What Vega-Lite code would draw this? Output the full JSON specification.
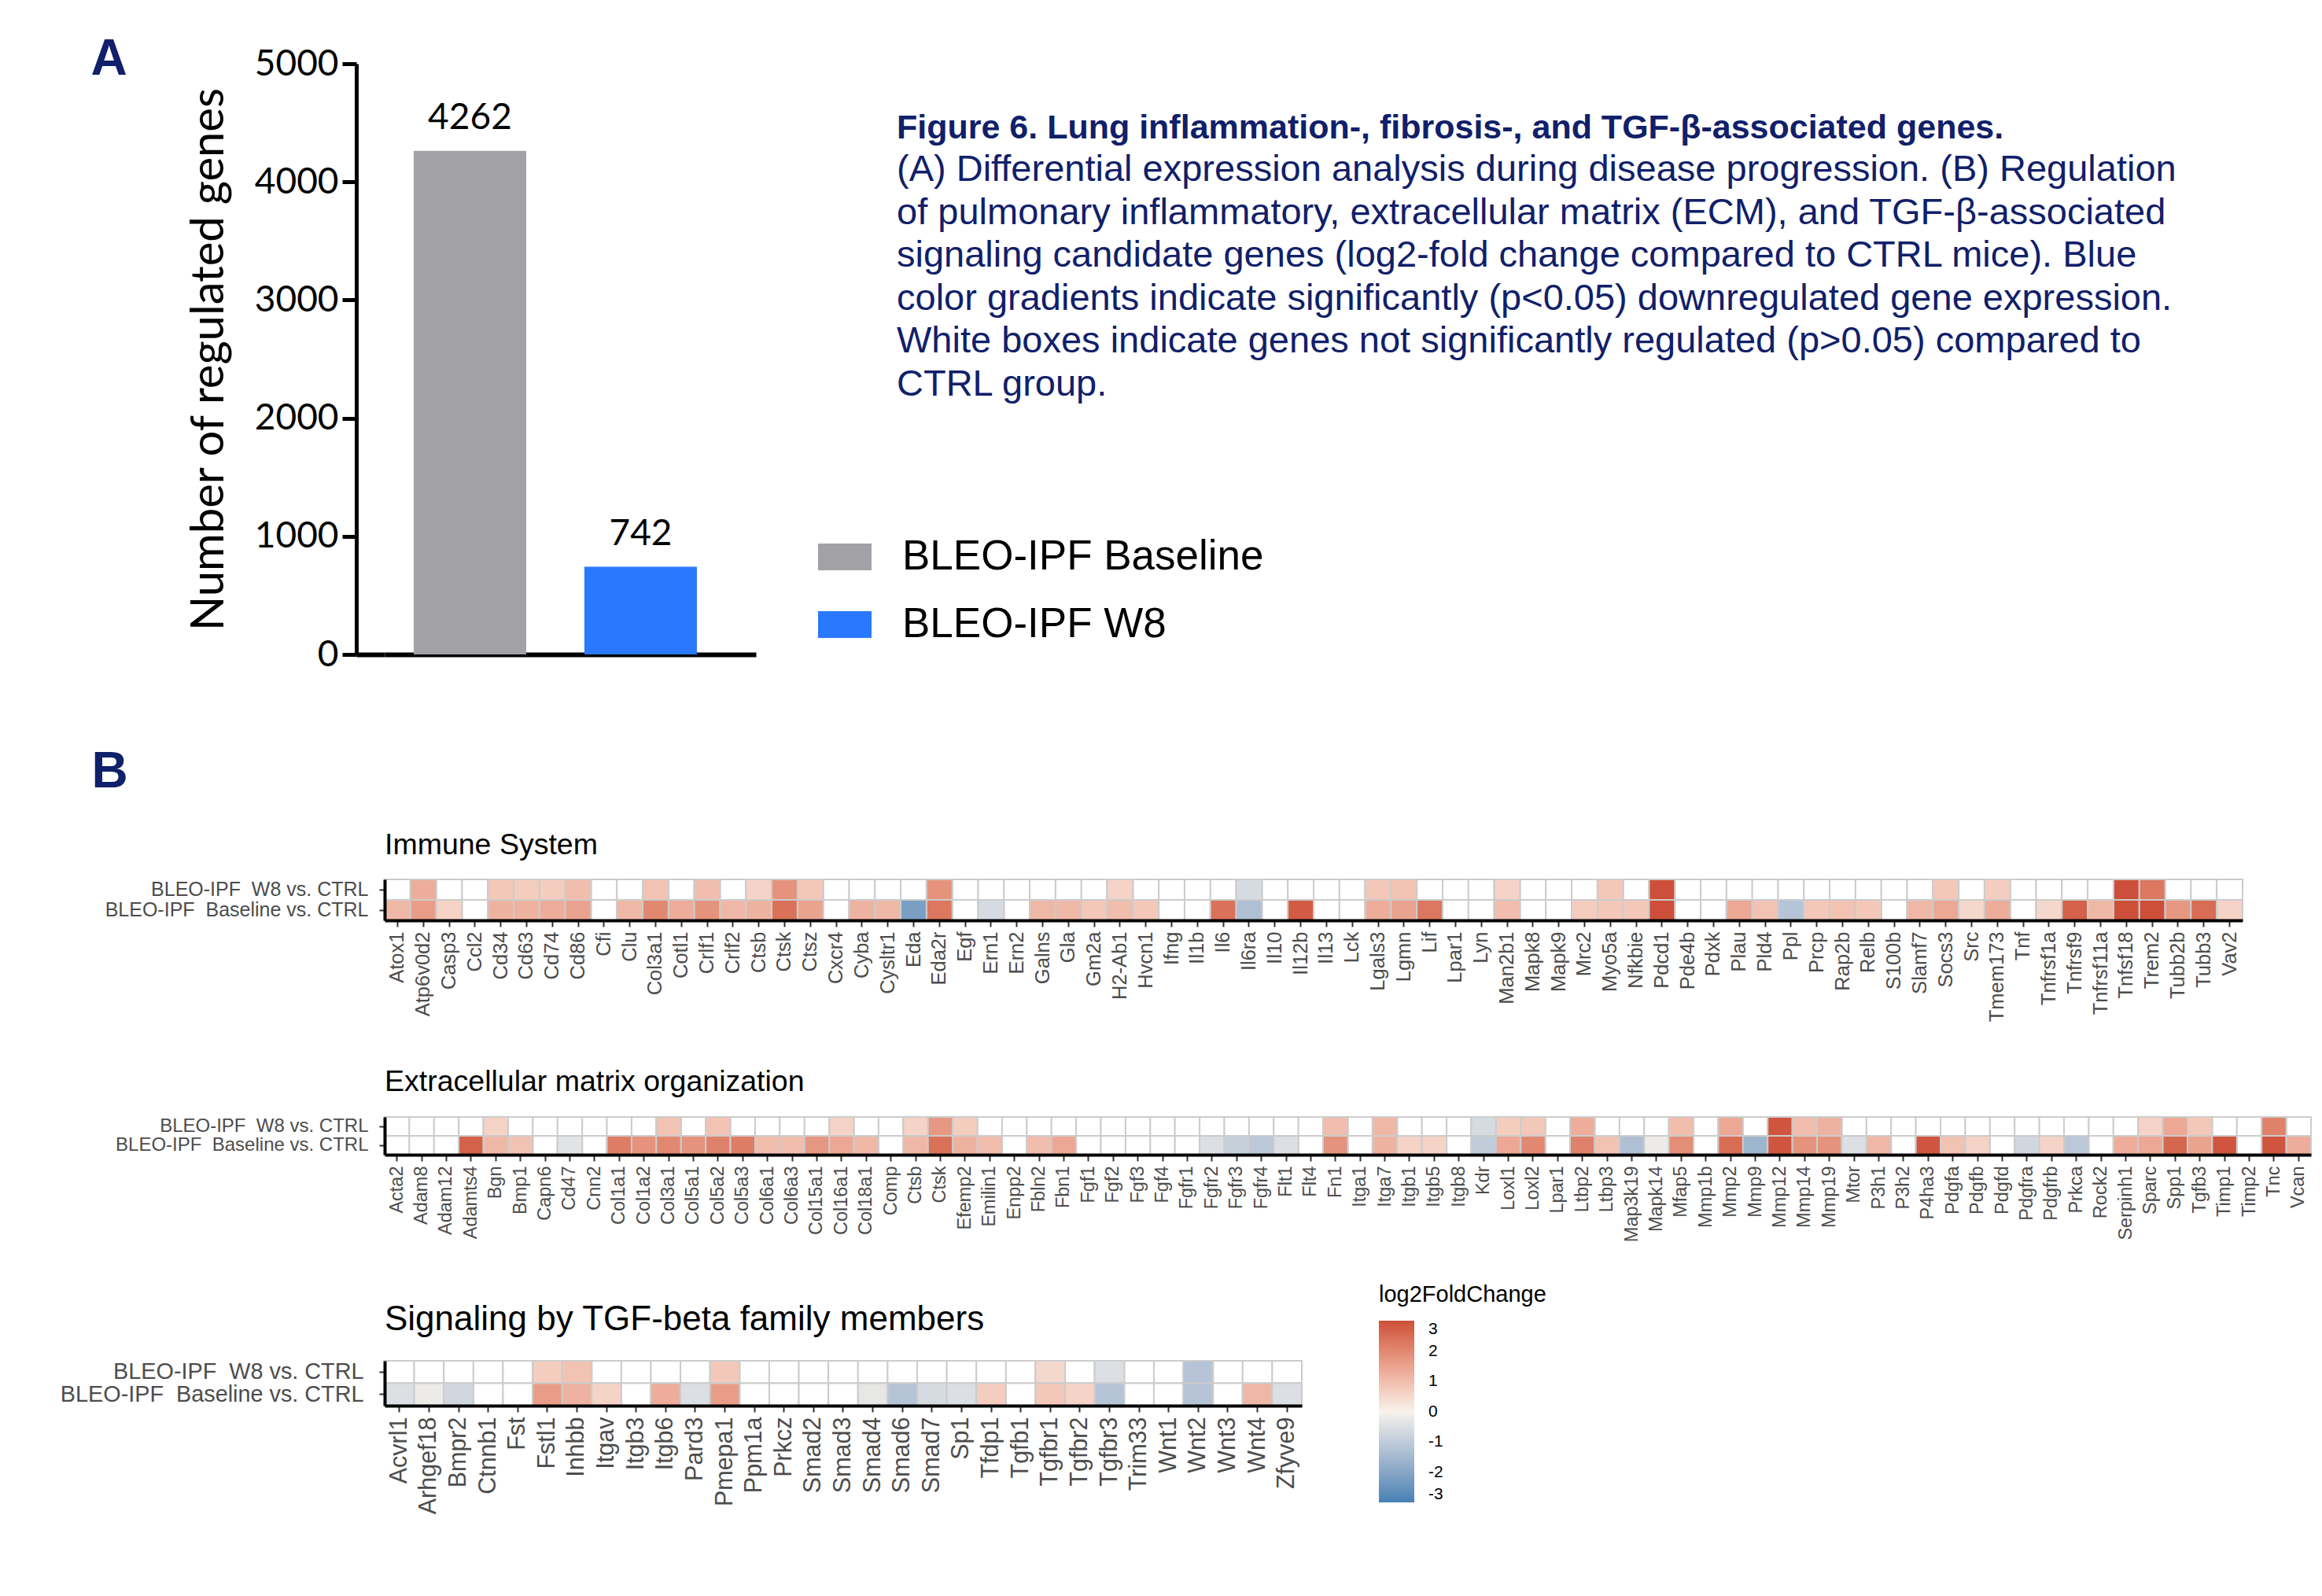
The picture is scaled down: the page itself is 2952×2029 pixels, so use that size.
{
  "$schema": "https://vega.github.io/schema/vega-lite/v6.json",
  "background": "white",
  "padding": {"left": 76, "top": 43, "right": 2, "bottom": 2},
  "spacing": 43,
  "config": {"view": {"stroke": null}, "axis": {"grid": false}},
  "resolve": {"scale": {"color": "independent"}, "legend": {"color": "independent"}},
  "datasets": {
    "bars": [
      {"group": "BLEO-IPF Baseline", "count": 4262},
      {"group": "BLEO-IPF W8", "count": 742}
    ],
    "imm": [
      {"g":"Atox1","W8":null,"Baseline":1.1},
      {"g":"Atp6v0d2","W8":1.3,"Baseline":1.6},
      {"g":"Casp3","W8":null,"Baseline":0.6},
      {"g":"Ccl2","W8":null,"Baseline":null},
      {"g":"Cd34","W8":0.8,"Baseline":1.2},
      {"g":"Cd63","W8":0.7,"Baseline":1.2},
      {"g":"Cd74","W8":0.7,"Baseline":1.3},
      {"g":"Cd86","W8":1.0,"Baseline":1.5},
      {"g":"Cfi","W8":null,"Baseline":null},
      {"g":"Clu","W8":null,"Baseline":1.1},
      {"g":"Col3a1","W8":0.9,"Baseline":2.0},
      {"g":"Cotl1","W8":null,"Baseline":1.3},
      {"g":"Crlf1","W8":1.0,"Baseline":1.8},
      {"g":"Crlf2","W8":null,"Baseline":1.1},
      {"g":"Ctsb","W8":0.6,"Baseline":1.2},
      {"g":"Ctsk","W8":1.8,"Baseline":2.4},
      {"g":"Ctsz","W8":0.8,"Baseline":1.5},
      {"g":"Cxcr4","W8":null,"Baseline":null},
      {"g":"Cyba","W8":null,"Baseline":1.2},
      {"g":"Cysltr1","W8":null,"Baseline":1.1},
      {"g":"Eda","W8":null,"Baseline":-2.2},
      {"g":"Eda2r","W8":1.8,"Baseline":2.3},
      {"g":"Egf","W8":null,"Baseline":null},
      {"g":"Ern1","W8":null,"Baseline":-0.6},
      {"g":"Ern2","W8":null,"Baseline":null},
      {"g":"Galns","W8":null,"Baseline":1.1},
      {"g":"Gla","W8":null,"Baseline":1.1},
      {"g":"Gm2a","W8":null,"Baseline":0.8},
      {"g":"H2-Ab1","W8":0.6,"Baseline":1.0},
      {"g":"Hvcn1","W8":null,"Baseline":0.8},
      {"g":"Ifng","W8":null,"Baseline":null},
      {"g":"Il1b","W8":null,"Baseline":null},
      {"g":"Il6","W8":null,"Baseline":2.4},
      {"g":"Il6ra","W8":-0.6,"Baseline":-1.3},
      {"g":"Il10","W8":null,"Baseline":null},
      {"g":"Il12b","W8":null,"Baseline":2.8},
      {"g":"Il13","W8":null,"Baseline":null},
      {"g":"Lck","W8":null,"Baseline":null},
      {"g":"Lgals3","W8":0.8,"Baseline":1.3},
      {"g":"Lgmn","W8":0.9,"Baseline":1.5},
      {"g":"Lif","W8":null,"Baseline":2.3},
      {"g":"Lpar1","W8":null,"Baseline":null},
      {"g":"Lyn","W8":null,"Baseline":null},
      {"g":"Man2b1","W8":0.6,"Baseline":1.0},
      {"g":"Mapk8","W8":null,"Baseline":null},
      {"g":"Mapk9","W8":null,"Baseline":null},
      {"g":"Mrc2","W8":null,"Baseline":0.7},
      {"g":"Myo5a","W8":0.8,"Baseline":0.8},
      {"g":"Nfkbie","W8":null,"Baseline":0.8},
      {"g":"Pdcd1","W8":3.0,"Baseline":3.0},
      {"g":"Pde4b","W8":null,"Baseline":null},
      {"g":"Pdxk","W8":null,"Baseline":null},
      {"g":"Plau","W8":null,"Baseline":1.4},
      {"g":"Pld4","W8":null,"Baseline":0.9},
      {"g":"Ppl","W8":null,"Baseline":-1.2},
      {"g":"Prcp","W8":null,"Baseline":0.8},
      {"g":"Rap2b","W8":null,"Baseline":0.9},
      {"g":"Relb","W8":null,"Baseline":0.8},
      {"g":"S100b","W8":null,"Baseline":null},
      {"g":"Slamf7","W8":null,"Baseline":1.1},
      {"g":"Socs3","W8":0.8,"Baseline":1.4},
      {"g":"Src","W8":null,"Baseline":0.5},
      {"g":"Tmem173","W8":0.7,"Baseline":1.3},
      {"g":"Tnf","W8":null,"Baseline":null},
      {"g":"Tnfrsf1a","W8":null,"Baseline":0.5},
      {"g":"Tnfrsf9","W8":null,"Baseline":2.7},
      {"g":"Tnfrsf11a","W8":null,"Baseline":1.1},
      {"g":"Tnfsf18","W8":3.0,"Baseline":3.0},
      {"g":"Trem2","W8":2.3,"Baseline":3.0},
      {"g":"Tubb2b","W8":null,"Baseline":1.7},
      {"g":"Tubb3","W8":null,"Baseline":2.5},
      {"g":"Vav2","W8":null,"Baseline":0.6}
    ],
    "ecm": [
      {"g":"Acta2","W8":null,"Baseline":null},
      {"g":"Adam8","W8":null,"Baseline":null},
      {"g":"Adam12","W8":null,"Baseline":null},
      {"g":"Adamts4","W8":null,"Baseline":2.7},
      {"g":"Bgn","W8":0.6,"Baseline":1.1},
      {"g":"Bmp1","W8":null,"Baseline":0.9},
      {"g":"Capn6","W8":null,"Baseline":null},
      {"g":"Cd47","W8":null,"Baseline":-0.4},
      {"g":"Cnn2","W8":null,"Baseline":null},
      {"g":"Col1a1","W8":null,"Baseline":2.2},
      {"g":"Col1a2","W8":null,"Baseline":1.8},
      {"g":"Col3a1","W8":0.9,"Baseline":2.0},
      {"g":"Col5a1","W8":null,"Baseline":1.8},
      {"g":"Col5a2","W8":0.9,"Baseline":2.1},
      {"g":"Col5a3","W8":null,"Baseline":2.2},
      {"g":"Col6a1","W8":null,"Baseline":1.0},
      {"g":"Col6a3","W8":null,"Baseline":1.0},
      {"g":"Col15a1","W8":null,"Baseline":1.7},
      {"g":"Col16a1","W8":0.6,"Baseline":1.4},
      {"g":"Col18a1","W8":null,"Baseline":1.1},
      {"g":"Comp","W8":null,"Baseline":null},
      {"g":"Ctsb","W8":0.6,"Baseline":1.1},
      {"g":"Ctsk","W8":1.7,"Baseline":2.4},
      {"g":"Efemp2","W8":0.7,"Baseline":1.2},
      {"g":"Emilin1","W8":null,"Baseline":1.0},
      {"g":"Enpp2","W8":null,"Baseline":null},
      {"g":"Fbln2","W8":null,"Baseline":1.0},
      {"g":"Fbn1","W8":null,"Baseline":1.4},
      {"g":"Fgf1","W8":null,"Baseline":null},
      {"g":"Fgf2","W8":null,"Baseline":null},
      {"g":"Fgf3","W8":null,"Baseline":null},
      {"g":"Fgf4","W8":null,"Baseline":null},
      {"g":"Fgfr1","W8":null,"Baseline":null},
      {"g":"Fgfr2","W8":null,"Baseline":-0.5},
      {"g":"Fgfr3","W8":null,"Baseline":-0.9},
      {"g":"Fgfr4","W8":null,"Baseline":-1.1},
      {"g":"Flt1","W8":null,"Baseline":-0.5},
      {"g":"Flt4","W8":null,"Baseline":null},
      {"g":"Fn1","W8":1.0,"Baseline":1.8},
      {"g":"Itga1","W8":null,"Baseline":null},
      {"g":"Itga7","W8":1.1,"Baseline":1.2},
      {"g":"Itgb1","W8":null,"Baseline":0.6},
      {"g":"Itgb5","W8":null,"Baseline":0.6},
      {"g":"Itgb8","W8":null,"Baseline":null},
      {"g":"Kdr","W8":-0.6,"Baseline":-1.0},
      {"g":"Loxl1","W8":0.7,"Baseline":1.4},
      {"g":"Loxl2","W8":0.8,"Baseline":2.0},
      {"g":"Lpar1","W8":null,"Baseline":null},
      {"g":"Ltbp2","W8":1.3,"Baseline":2.1},
      {"g":"Ltbp3","W8":null,"Baseline":0.9},
      {"g":"Map3k19","W8":null,"Baseline":-1.3},
      {"g":"Mapk14","W8":null,"Baseline":-0.2},
      {"g":"Mfap5","W8":1.0,"Baseline":1.9},
      {"g":"Mmp1b","W8":null,"Baseline":null},
      {"g":"Mmp2","W8":1.4,"Baseline":2.5},
      {"g":"Mmp9","W8":null,"Baseline":-1.6},
      {"g":"Mmp12","W8":2.9,"Baseline":2.9},
      {"g":"Mmp14","W8":1.0,"Baseline":1.8},
      {"g":"Mmp19","W8":1.2,"Baseline":1.8},
      {"g":"Mtor","W8":null,"Baseline":-0.5},
      {"g":"P3h1","W8":null,"Baseline":1.1},
      {"g":"P3h2","W8":null,"Baseline":null},
      {"g":"P4ha3","W8":null,"Baseline":2.9},
      {"g":"Pdgfa","W8":null,"Baseline":0.9},
      {"g":"Pdgfb","W8":null,"Baseline":0.6},
      {"g":"Pdgfd","W8":null,"Baseline":null},
      {"g":"Pdgfra","W8":null,"Baseline":-0.7},
      {"g":"Pdgfrb","W8":null,"Baseline":0.6},
      {"g":"Prkca","W8":null,"Baseline":-1.1},
      {"g":"Rock2","W8":null,"Baseline":null},
      {"g":"Serpinh1","W8":null,"Baseline":1.3},
      {"g":"Sparc","W8":0.6,"Baseline":1.4},
      {"g":"Spp1","W8":1.4,"Baseline":2.6},
      {"g":"Tgfb3","W8":0.8,"Baseline":1.5},
      {"g":"Timp1","W8":null,"Baseline":2.9},
      {"g":"Timp2","W8":null,"Baseline":null},
      {"g":"Tnc","W8":2.1,"Baseline":2.9},
      {"g":"Vcan","W8":null,"Baseline":1.3}
    ],
    "tgf": [
      {"g":"Acvrl1","W8":null,"Baseline":-0.5},
      {"g":"Arhgef18","W8":null,"Baseline":-0.2},
      {"g":"Bmpr2","W8":null,"Baseline":-0.7},
      {"g":"Ctnnb1","W8":null,"Baseline":null},
      {"g":"Fst","W8":null,"Baseline":null},
      {"g":"Fstl1","W8":0.7,"Baseline":1.6},
      {"g":"Inhbb","W8":0.9,"Baseline":1.2},
      {"g":"Itgav","W8":null,"Baseline":0.6},
      {"g":"Itgb3","W8":null,"Baseline":null},
      {"g":"Itgb6","W8":null,"Baseline":1.3},
      {"g":"Pard3","W8":null,"Baseline":-0.5},
      {"g":"Pmepa1","W8":0.8,"Baseline":1.6},
      {"g":"Ppm1a","W8":null,"Baseline":null},
      {"g":"Prkcz","W8":null,"Baseline":null},
      {"g":"Smad2","W8":null,"Baseline":null},
      {"g":"Smad3","W8":null,"Baseline":null},
      {"g":"Smad4","W8":null,"Baseline":-0.3},
      {"g":"Smad6","W8":null,"Baseline":-1.2},
      {"g":"Smad7","W8":null,"Baseline":-0.6},
      {"g":"Sp1","W8":null,"Baseline":-0.5},
      {"g":"Tfdp1","W8":null,"Baseline":0.7},
      {"g":"Tgfb1","W8":null,"Baseline":null},
      {"g":"Tgfbr1","W8":0.5,"Baseline":0.8},
      {"g":"Tgfbr2","W8":null,"Baseline":0.6},
      {"g":"Tgfbr3","W8":-0.5,"Baseline":-1.2},
      {"g":"Trim33","W8":null,"Baseline":null},
      {"g":"Wnt1","W8":null,"Baseline":null},
      {"g":"Wnt2","W8":-1.2,"Baseline":-1.2},
      {"g":"Wnt3","W8":null,"Baseline":null},
      {"g":"Wnt4","W8":null,"Baseline":1.1},
      {"g":"Zfyve9","W8":null,"Baseline":-0.5}
    ]
  },
  "vconcat": [
    {
      "width": 472,
      "height": 751,
      "data": {"name": "bars"},
      "title": {
        "text": "Figure 6. Lung inflammation-, fibrosis-, and TGF-β-associated genes.",
        "subtitle": [
          "(A) Differential expression analysis during disease progression. (B) Regulation",
          "of pulmonary inflammatory, extracellular matrix (ECM), and TGF-β-associated",
          "signaling candidate genes (log2-fold change compared to CTRL mice). Blue",
          "color gradients indicate significantly (p<0.05) downregulated gene expression.",
          "White boxes indicate genes not significantly regulated (p>0.05) compared to",
          "CTRL group."
        ],
        "anchor": "start",
        "frame": "group",
        "dx": 651,
        "offset": -469,
        "font": "Liberation Sans",
        "fontSize": 43,
        "fontWeight": "bold",
        "color": "#10206a",
        "subtitleFont": "Liberation Sans",
        "subtitleFontSize": 47,
        "subtitleFontWeight": "normal",
        "subtitleColor": "#10206a",
        "subtitleLineHeight": 54.6,
        "subtitlePadding": 7.9
      },
      "layer": [
        {
          "mark": {"type": "bar"},
          "encoding": {
            "x": {
              "field": "group", "type": "nominal", "sort": null,
              "scale": {"paddingInner": 0.341, "paddingOuter": 0.258, "align": 0.33},
              "axis": {
                "orient": "bottom", "labels": false, "ticks": false, "domain": true,
                "domainColor": "black", "domainWidth": 6,
                "title": "B", "titleX": -373, "titleY": 168, "titleAlign": "left",
                "titleBaseline": "alphabetic", "titleFont": "Liberation Sans",
                "titleFontSize": 64, "titleFontWeight": "bold", "titleColor": "#10206a"
              }
            },
            "y": {
              "field": "count", "type": "quantitative",
              "scale": {"domain": [0, 5000], "nice": false},
              "axis": {
                "values": [0, 1000, 2000, 3000, 4000, 5000], "format": "d",
                "offset": 36, "tickSize": 18, "tickWidth": 5, "tickColor": "black",
                "domainColor": "black", "domainWidth": 5,
                "labelFont": "Lato", "labelFontSize": 46, "labelColor": "black", "labelPadding": 5,
                "title": "Number of regulated genes", "titleFont": "Lato", "titleFontSize": 58,
                "titleFontWeight": "normal", "titleColor": "black", "titlePadding": 28, "grid": false
              }
            },
            "color": {
              "field": "group", "type": "nominal", "sort": null,
              "scale": {"domain": ["BLEO-IPF Baseline", "BLEO-IPF W8"], "range": ["#a2a1a6", "#2a78fe"]},
              "legend": {
                "orient": "none", "legendX": 551, "legendY": 593, "title": null, "padding": 0,
                "symbolType": "M-1,-0.5H1V0.5H-1Z", "symbolSize": 4624, "symbolStrokeWidth": 0, "symbolOpacity": 1,
                "labelFont": "Liberation Sans", "labelFontSize": 53, "labelColor": "black",
                "labelOffset": 39, "rowPadding": 25, "labelLimit": 0
              }
            }
          }
        },
        {
          "mark": {"type": "text", "dy": -28, "baseline": "alphabetic", "font": "Lato", "fontSize": 46, "color": "black"},
          "encoding": {
            "x": {
              "field": "group", "type": "nominal", "sort": null,
              "axis": {
                "orient": "top", "labels": false, "ticks": false, "domain": false,
                "title": "A", "titleX": -374, "titleY": 13, "titleAlign": "left",
                "titleBaseline": "alphabetic", "titleFont": "Liberation Sans",
                "titleFontSize": 64, "titleFontWeight": "bold", "titleColor": "#10206a"
              }
            },
            "y": {
              "field": "count", "type": "quantitative",
              "axis": {
                "orient": "left", "offset": 36, "values": [0], "tickSize": -36, "tickWidth": 6, "tickColor": "black",
                "labels": false, "domain": false, "title": null, "grid": false
              }
            },
            "text": {"field": "count", "type": "quantitative", "format": "d"}
          }
        }
      ],
      "resolve": {"axis": {"x": "independent", "y": "independent"}}
    },
    {
      "width": 2362,
      "height": 52,
      "data": {"name": "imm"},
      "transform": [{"fold": ["W8", "Baseline"], "as": ["row", "v"]}],
      "title": {"text": "Immune System", "anchor": "start", "frame": "group", "font": "Liberation Sans", "fontSize": 37.5, "fontWeight": "normal", "color": "black", "offset": 23.5},
      "encoding": {
        "x": {
          "field": "g", "type": "nominal", "sort": null,
          "scale": {"paddingInner": 0, "paddingOuter": 0},
          "axis": {
            "labelAngle": 270, "labelFont": "Liberation Sans", "labelFontSize": 25.5, "labelColor": "#4d4d4d",
            "labelPadding": 6, "labelOverlap": false, "tickSize": 8, "tickWidth": 2, "tickColor": "#333333",
            "domainColor": "black", "domainWidth": 4,
            "title": " ", "titleX": 0, "titleY": 144, "titleAlign": "left", "titleBaseline": "bottom", "titleFontSize": 10
          }
        },
        "y": {
          "field": "row", "type": "nominal", "sort": ["W8", "Baseline"],
          "scale": {"paddingInner": 0, "paddingOuter": 0},
          "axis": {
            "labelExpr": "datum.value == 'W8' ? 'BLEO-IPF\u00a0 W8 vs. CTRL' : 'BLEO-IPF\u00a0 Baseline vs. CTRL'",
            "labelFont": "Liberation Sans", "labelFontSize": 25, "labelColor": "#4d4d4d", "labelPadding": 14, "labelLimit": 0,
            "tickSize": 7, "tickWidth": 2, "tickColor": "#333333", "domainColor": "black", "domainWidth": 4, "title": null
          }
        }
      },
      "layer": [
        {"mark": {"type": "rect", "fill": "white", "stroke": "#cccccc", "strokeWidth": 2}},
        {
          "transform": [{"filter": "datum.v != null"}],
          "mark": {"type": "rect", "stroke": "#cccccc", "strokeWidth": 2},
          "encoding": {
            "color": {
              "field": "v", "type": "quantitative",
              "scale": {"domain": [-3, 0, 3], "range": ["#4682b4", "#f8f3ec", "#cd4f39"], "interpolate": "lab", "clamp": true},
              "legend": null
            }
          }
        }
      ]
    },
    {
      "width": 2449,
      "height": 48,
      "data": {"name": "ecm"},
      "transform": [{"fold": ["W8", "Baseline"], "as": ["row", "v"]}],
      "title": {"text": "Extracellular matrix organization", "anchor": "start", "frame": "group", "font": "Liberation Sans", "fontSize": 37.5, "fontWeight": "normal", "color": "black", "offset": 24.5},
      "encoding": {
        "x": {
          "field": "g", "type": "nominal", "sort": null,
          "scale": {"paddingInner": 0, "paddingOuter": 0},
          "axis": {
            "labelAngle": 270, "labelFont": "Liberation Sans", "labelFontSize": 23.5, "labelColor": "#4d4d4d",
            "labelPadding": 6, "labelOverlap": false, "tickSize": 8, "tickWidth": 2, "tickColor": "#333333",
            "domainColor": "black", "domainWidth": 4,
            "title": " ", "titleX": 0, "titleY": 121, "titleAlign": "left", "titleBaseline": "bottom", "titleFontSize": 10
          }
        },
        "y": {
          "field": "row", "type": "nominal", "sort": ["W8", "Baseline"],
          "scale": {"paddingInner": 0, "paddingOuter": 0},
          "axis": {
            "labelExpr": "datum.value == 'W8' ? 'BLEO-IPF\u00a0 W8 vs. CTRL' : 'BLEO-IPF\u00a0 Baseline vs. CTRL'",
            "labelFont": "Liberation Sans", "labelFontSize": 24, "labelColor": "#4d4d4d", "labelPadding": 14, "labelLimit": 0,
            "tickSize": 7, "tickWidth": 2, "tickColor": "#333333", "domainColor": "black", "domainWidth": 4, "title": null
          }
        }
      },
      "layer": [
        {"mark": {"type": "rect", "fill": "white", "stroke": "#cccccc", "strokeWidth": 2}},
        {
          "transform": [{"filter": "datum.v != null"}],
          "mark": {"type": "rect", "stroke": "#cccccc", "strokeWidth": 2},
          "encoding": {
            "color": {
              "field": "v", "type": "quantitative",
              "scale": {"domain": [-3, 0, 3], "range": ["#4682b4", "#f8f3ec", "#cd4f39"], "interpolate": "lab", "clamp": true},
              "legend": null
            }
          }
        }
      ]
    },
    {
      "width": 1166,
      "height": 57,
      "data": {"name": "tgf"},
      "transform": [{"fold": ["W8", "Baseline"], "as": ["row", "v"]}],
      "title": {"text": "Signaling by TGF-beta family members", "anchor": "start", "frame": "group", "font": "Liberation Sans", "fontSize": 44, "fontWeight": "normal", "color": "black", "offset": -68},
      "encoding": {
        "x": {
          "field": "g", "type": "nominal", "sort": null,
          "scale": {"paddingInner": 0, "paddingOuter": 0},
          "axis": {
            "labelAngle": 270, "labelFont": "Liberation Sans", "labelFontSize": 30.5, "labelColor": "#4d4d4d",
            "labelPadding": 6, "labelOverlap": false, "tickSize": 8, "tickWidth": 2, "tickColor": "#333333",
            "domainColor": "black", "domainWidth": 4, "title": null
          }
        },
        "y": {
          "field": "row", "type": "nominal", "sort": ["W8", "Baseline"],
          "scale": {"paddingInner": 0, "paddingOuter": 0},
          "axis": {
            "labelExpr": "datum.value == 'W8' ? 'BLEO-IPF\u00a0 W8 vs. CTRL' : 'BLEO-IPF\u00a0 Baseline vs. CTRL'",
            "labelFont": "Liberation Sans", "labelFontSize": 28.8, "labelColor": "#4d4d4d", "labelPadding": 20, "labelLimit": 0,
            "tickSize": 7, "tickWidth": 2, "tickColor": "#333333", "domainColor": "black", "domainWidth": 4, "title": null
          }
        }
      },
      "layer": [
        {"mark": {"type": "rect", "fill": "white", "stroke": "#cccccc", "strokeWidth": 2}},
        {
          "transform": [{"filter": "datum.v != null"}],
          "mark": {"type": "rect", "stroke": "#cccccc", "strokeWidth": 2},
          "encoding": {
            "color": {
              "field": "v", "type": "quantitative",
              "scale": {"domain": [-3, 0, 3], "range": ["#4682b4", "#f8f3ec", "#cd4f39"], "interpolate": "lab", "clamp": true},
              "legend": {
                "orient": "none", "legendX": 1264, "legendY": -98, "direction": "vertical", "padding": 0,
                "title": "log2FoldChange", "titleFont": "Liberation Sans", "titleFontSize": 29, "titleFontWeight": "normal",
                "titleColor": "black", "titlePadding": 18, "titleLimit": 0,
                "gradientLength": 231, "gradientThickness": 45, "gradientStrokeWidth": 0,
                "values": [-3, -2, -1, 0, 1, 2, 3],
                "labelExpr": "toString(datum.value)", "labelBaseline": "middle",
                "labelFont": "Liberation Sans", "labelFontSize": 21, "labelColor": "black", "labelOffset": 18, "labelOverlap": false
              }
            }
          }
        }
      ]
    }
  ]
}
